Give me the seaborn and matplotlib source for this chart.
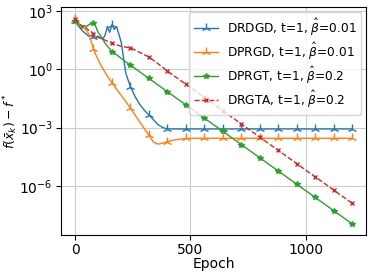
import numpy as np
import matplotlib
matplotlib.use("Agg")
import matplotlib.pyplot as plt
import seaborn as sns

# epochs: every 10 up to 200, then every 20
epochs = list(range(0, 201, 10)) + list(range(220, 1201, 20))

# log10 of f(x_k) - f*
drdgd_log = [2.5, 2.3, 2.15, 2.0, 1.9, 1.8, 1.7, 1.75, 1.65, 1.6, 1.7, 1.6, 1.55, 1.75, 2.2, 1.9, 2.3, 2.05, 2.2, 1.8, 1.4,
             -0.2, -0.9, -1.4, -1.8, -2.1, -2.35, -2.6, -2.85, -3.0, -3.07] + [-3.07] * 40
dprgd_log = [2.6, 2.45, 2.3, 2.25, 2.1, 2.0, 1.8, 1.45, 1.05, 0.75, 0.5, 0.25, 0.05, -0.15, -0.35, -0.52, -0.7, -0.86, -1.02, -1.18, -1.34,
             -1.66, -2.0, -2.35, -2.7, -3.05, -3.4, -3.75, -3.85, -3.8, -3.72, -3.66, -3.62, -3.59, -3.56, -3.55] + [-3.55] * 35
dprgt_log = [2.5, 2.35, 2.2, 2.1, 2.25, 2.2, 2.3, 2.35, 2.4, 2.2, 1.9, 1.75, 1.55, 1.35, 1.2, 1.05, 0.9, 0.83, 0.75, 0.66, 0.56,
             0.38, 0.21, 0.04, -0.13, -0.30, -0.47, -0.64, -0.81, -0.98, -1.15,
             -1.32, -1.49, -1.66, -1.83, -2.00, -2.17, -2.34, -2.51, -2.68, -2.85,
             -3.02, -3.19, -3.36, -3.53, -3.70, -3.87, -4.04, -4.21, -4.38, -4.55,
             -4.72, -4.89, -5.06, -5.23, -5.40, -5.57, -5.74, -5.91, -6.08, -6.25,
             -6.42, -6.59, -6.76, -6.93, -7.10, -7.27, -7.44, -7.61, -7.78, -7.95]
drgta_log = [2.6, 2.45, 2.35, 2.2, 2.25, 2.1, 2.0, 1.95, 1.8, 1.75, 1.65, 1.6, 1.55, 1.5, 1.45, 1.4, 1.35, 1.3, 1.26, 1.22, 1.18,
             1.14, 1.1, 0.99, 0.87, 0.75, 0.63, 0.46, 0.28, 0.1, -0.09,
             -0.26, -0.43, -0.60, -0.77, -0.94, -1.11, -1.28, -1.45, -1.62, -1.79,
             -1.96, -2.13, -2.30, -2.47, -2.64, -2.81, -2.98, -3.15, -3.32, -3.49,
             -3.66, -3.83, -4.00, -4.17, -4.34, -4.51, -4.68, -4.85, -5.02, -5.19,
             -5.36, -5.53, -5.70, -5.87, -6.04, -6.21, -6.38, -6.55, -6.72, -6.89]

labels = [r"DRDGD, t=1, $\hat{\beta}$=0.01", r"DPRGD, t=1, $\hat{\beta}$=0.01",
          r"DPRGT, t=1, $\hat{\beta}$=0.2", r"DRGTA, t=1, $\hat{\beta}$=0.2"]

ep = np.array(epochs)
marks = [i for i, e in enumerate(epochs) if e % 80 == 0]

fig = plt.figure(figsize=(3.73, 2.76), dpi=100)
ax = fig.add_axes([0.164, 0.149, 0.817, 0.826])

colors = ["#1f77b4", "#ff7f0e", "#2ca02c", "#d62728"]
mk = ["2", "2", "*", "x"]
msz = [7, 7, 4, 3]
lss = ["-", "-", "-", "--"]
for vals, lab, c, m, s, ls in zip([drdgd_log, dprgd_log, dprgt_log, drgta_log], labels, colors, mk, msz, lss):
    sns.lineplot(x=ep, y=10 ** np.array(vals), ax=ax, label=lab, color=c, linewidth=1,
                 dashes=False, marker=m, markersize=s, markevery=marks,
                 markeredgecolor=c, markeredgewidth=1, ls=ls)

ax.set_yscale("log")
ax.set_xlim(-60, 1260)
ax.set_ylim(10 ** -8.52, 10 ** 3.21)
ax.set_yticks([1e3, 1e0, 1e-3, 1e-6])
ax.set_xticks([0, 500, 1000])
ax.grid(True, color="#cccccc", linewidth=0.8)
ax.set_xlabel("Epoch", fontsize=10, labelpad=0)
ax.set_ylabel(r"$f(\bar{x}_k) - f^*$", fontsize=9)
ax.yaxis.set_label_coords(-0.136, 0.5)
ax.tick_params(labelsize=10, pad=2.5)
ax.legend(loc="upper right", fontsize=8.7, handlelength=2.0, labelspacing=0.25,
          borderaxespad=0.4, handletextpad=0.7)

fig.savefig("out.png", dpi=100)
